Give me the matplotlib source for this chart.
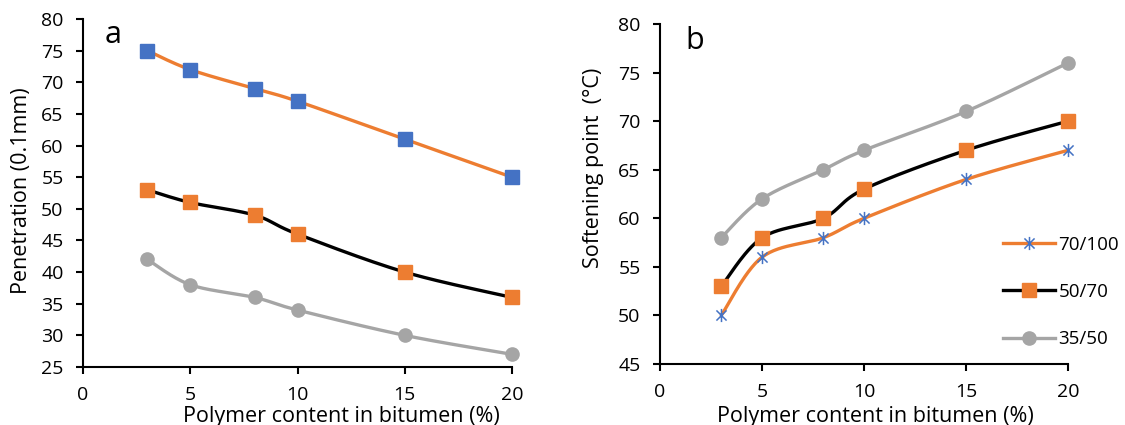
import numpy as np
import matplotlib
matplotlib.use("Agg")
import matplotlib.pyplot as plt
from matplotlib.path import Path

plt.rcParams['font.family'] = ['Open Sans', 'DejaVu Sans']

# ---- data ----
content = [3, 5, 8, 10, 15, 20]
series_names = ["70/100", "50/70", "35/50"]
pen_70_100 = [75, 72, 69, 67, 61, 55]
pen_50_70 = [53, 51, 49, 46, 40, 36]
pen_35_50 = [42, 38, 36, 34, 30, 27]
soft_70_100 = [50, 56, 58, 60, 64, 67]
soft_50_70 = [53, 58, 60, 63, 67, 70]
soft_35_50 = [58, 62, 65, 67, 71, 76]
x_ticks = [0, 5, 10, 15, 20]

ORANGE = "#ED7D31"
BLUE = "#4472C4"
GRAY = "#A5A5A5"
BLACK = "#000000"

# asterisk marker (x plus vertical bar)
ast = Path([(-1, -1), (1, 1), (-1, 1), (1, -1), (0, -1.3), (0, 1.3)],
           [Path.MOVETO, Path.LINETO, Path.MOVETO, Path.LINETO, Path.MOVETO, Path.LINETO])


def smooth(x, y, n=30):
    """Excel-like smoothed line (Catmull-Rom Bezier) through the points."""
    x = np.asarray(x, float)
    y = np.asarray(y, float)
    P = np.column_stack([x, y])
    out = []
    for i in range(len(P) - 1):
        p0 = P[i - 1] if i > 0 else P[i]
        p1 = P[i]
        p2 = P[i + 1]
        p3 = P[i + 2] if i + 2 < len(P) else P[i + 1]
        c1 = p1 + (p2 - p0) / 6.0
        c2 = p2 - (p3 - p1) / 6.0
        t = np.linspace(0, 1, n)[:, None]
        seg = ((1 - t) ** 3) * p1 + 3 * ((1 - t) ** 2) * t * c1 + 3 * (1 - t) * t ** 2 * c2 + t ** 3 * p2
        out.append(seg if i == 0 else seg[1:])
    s = np.vstack(out)
    return s[:, 0], s[:, 1]


fig = plt.figure(figsize=(11.25, 4.25), dpi=100)
axL = fig.add_axes([0.0738, 0.1365, 0.3813, 0.8188])
axR = fig.add_axes([0.5867, 0.1435, 0.3627, 0.8000])

styles = [
    dict(line=ORANGE, marker='s', mfc=BLUE, mec=BLUE, ms=10),
    dict(line=BLACK, marker='s', mfc=ORANGE, mec=ORANGE, ms=10),
    dict(line=GRAY, marker='o', mfc=GRAY, mec=GRAY, ms=9.5),
]
stylesR = [
    dict(line=ORANGE, marker=ast, mfc='none', mec=BLUE, ms=9.5, mew=1.1),
    dict(line=BLACK, marker='s', mfc=ORANGE, mec=ORANGE, ms=10),
    dict(line=GRAY, marker='o', mfc=GRAY, mec=GRAY, ms=9.5),
]

for ys, st in zip([pen_70_100, pen_50_70, pen_35_50], styles):
    sx, sy = smooth(content, ys)
    axL.plot(sx, sy, color=st['line'], lw=2.4, solid_capstyle='round', zorder=2)
    axL.plot(content, ys, ls='none', marker=st['marker'], mfc=st['mfc'],
             mec=st['mec'], ms=st['ms'], zorder=3, clip_on=False)

handles = []
for ys, st, name in zip([soft_70_100, soft_50_70, soft_35_50], stylesR, series_names):
    sx, sy = smooth(content, ys)
    axR.plot(sx, sy, color=st['line'], lw=2.4, solid_capstyle='round', zorder=2)
    axR.plot(content, ys, ls='none', marker=st['marker'], mfc=st['mfc'],
             mec=st['mec'], ms=st['ms'], mew=st.get('mew', 1.0), zorder=3, clip_on=False)
    h, = axR.plot([], [], color=st['line'], lw=2.4, marker=st['marker'], mfc=st['mfc'],
                  mec=st['mec'], ms=st['ms'], mew=st.get('mew', 1.0), label=name)
    handles.append(h)

for ax in (axL, axR):
    ax.set_xlim(0, 20)
    ax.set_xticks(x_ticks)
    for s in ('top', 'right'):
        ax.spines[s].set_visible(False)
    for s in ('left', 'bottom'):
        ax.spines[s].set_linewidth(1.5)
        ax.spines[s].set_color('black')
    ax.tick_params(axis='both', labelsize=14, width=1.5, length=5, direction='out',
                   colors='black', pad=9)

axL.set_ylim(25, 80)
axL.set_yticks(np.arange(25, 81, 5))
axR.set_ylim(45, 80)
axR.set_yticks(np.arange(45, 81, 5))

LABEL_FS = 15.5
# x axis titles (Excel places them slightly right of the plot centre)
fig.text(341 / 1125, 1 - 422 / 425, "Polymer content in bitumen (%)", fontsize=LABEL_FS,
         ha='center', va='baseline')
fig.text(875.5 / 1125, 1 - 422 / 425, "Polymer content in bitumen (%)", fontsize=LABEL_FS,
         ha='center', va='baseline')
# y axis titles
fig.text(22 / 1125, 1 - 191 / 425, "Penetration (0.1mm)", fontsize=LABEL_FS,
         ha='center', va='center', rotation=90)
fig.text(593 / 1125, 1 - 168 / 425, "Softening point  (\u00b0C)", fontsize=LABEL_FS,
         ha='center', va='center', rotation=90)

# panel letters
fig.text(113 / 1125, 1 - 35 / 425, "a", fontsize=22, ha='center', va='center')
fig.text(695 / 1125, 1 - 41 / 425, "b", fontsize=22, ha='center', va='center')

fig.legend(handles=handles, loc='center left', bbox_to_anchor=(1003 / 1125, 1 - 292 / 425),
           frameon=False, fontsize=13.5, handlelength=2.75, handletextpad=0.2,
           labelspacing=1.55, borderpad=0, borderaxespad=0)

fig.savefig("out.png", dpi=100)
